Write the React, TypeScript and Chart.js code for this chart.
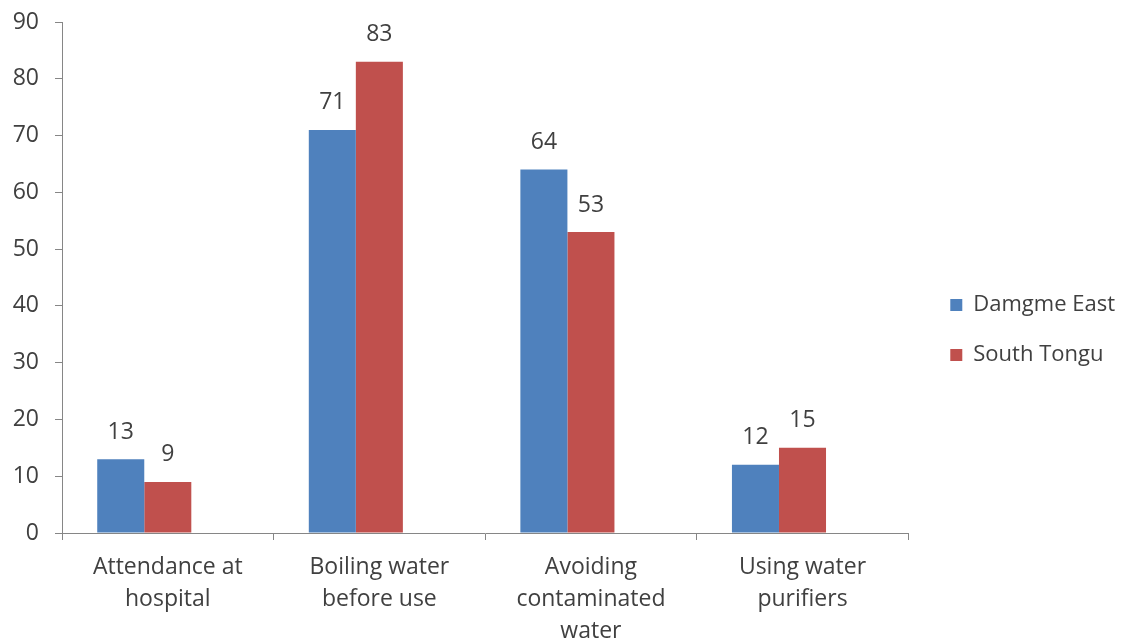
import React, { useEffect, useRef } from 'react';
import { Chart, registerables } from 'chart.js';

Chart.register(...registerables);

const categories: string[][] = [
  ['Attendance at', 'hospital'],
  ['Boiling water', 'before use'],
  ['Avoiding', 'contaminated', 'water'],
  ['Using water', 'purifiers'],
];
const damgmeEast = [13, 71, 64, 12];
const southTongu = [9, 83, 53, 15];
const spacerSlot: (number | null)[] = [null, null, null, null];
const seriesNames = ['Damgme East', 'South Tongu'];
const yMin = 0;
const yMax = 90;
const yStep = 10;

const FONT = 'Open Sans';
const FS = 23;
const LEGEND_FS = 22;
const TEXT = '#404040';
const AXIS = '#868686';

export default function App() {
  const ref = useRef<HTMLCanvasElement | null>(null);
  useEffect(() => {
    if (!ref.current) return;
    const valueLabels = {
      id: 'valueLabels',
      afterDatasetsDraw(chart: any) {
        const ctx = chart.ctx;
        ctx.save();
        ctx.font = `${FS}px "${FONT}"`;
        ctx.fillStyle = TEXT;
        ctx.textAlign = 'center';
        ctx.textBaseline = 'middle';
        [0, 1].forEach((di) => {
          const meta = chart.getDatasetMeta(di);
          const data = chart.data.datasets[di].data;
          meta.data.forEach((el: any, i: number) => {
            ctx.fillText(String(data[i]), el.x, el.y - 27);
          });
        });
        ctx.restore();
      },
    };
    const chart = new Chart(ref.current, {
      type: 'bar',
      data: {
        labels: categories,
        datasets: [
          { label: seriesNames[0], data: damgmeEast, backgroundColor: '#4F81BD' },
          { label: seriesNames[1], data: southTongu, backgroundColor: '#C0504D' },
          { label: '', data: spacerSlot as any, backgroundColor: 'rgba(0,0,0,0)' },
        ],
      },
      options: {
        responsive: false,
        animation: false,
        devicePixelRatio: 1,
        layout: { padding: { left: 0, top: 17, right: 1, bottom: 0 } },
        datasets: { bar: { categoryPercentage: 0.667, barPercentage: 1 } },
        plugins: {
          legend: {
            position: 'right',
            maxWidth: 400,
            labels: {
              boxWidth: 12,
              boxHeight: 12,
              padding: 28,
              color: TEXT,
              font: { family: FONT, size: LEGEND_FS },
              filter: (item: any) => item.text !== '',
            },
          },
          tooltip: { enabled: false },
        },
        scales: {
          x: {
            grid: { display: true, drawOnChartArea: false, drawTicks: true, tickLength: 7, color: AXIS, offset: true },
            border: { display: true, color: AXIS },
            ticks: { color: TEXT, padding: 11, maxRotation: 0, autoSkip: false, font: { family: FONT, size: FS, lineHeight: 32 / FS } },
            afterFit: (s: any) => { s.height = 110; s.paddingLeft = 0; s.paddingRight = 0; },
          },
          y: {
            min: yMin,
            max: yMax,
            grid: { display: true, drawOnChartArea: false, drawTicks: true, tickLength: 7, color: AXIS },
            border: { display: true, color: AXIS },
            ticks: { stepSize: yStep, color: TEXT, padding: 16, font: { family: FONT, size: FS } },
            afterFit: (s: any) => { s.width = 62; s.paddingTop = 22; s.paddingBottom = 0; },
          },
          gap: {
            type: 'linear',
            position: 'right',
            display: true,
            grid: { display: false },
            border: { display: false },
            ticks: { display: false },
            afterFit: (s: any) => { s.width = 14; s.paddingTop = 0; s.paddingBottom = 0; },
          } as any,
        },
      },
      plugins: [valueLabels],
    });
    return () => chart.destroy();
  }, []);
  return (
    <div style={{ position: 'fixed', left: 0, top: 0, width: 1126, height: 643, background: '#fff' }}>
      <canvas ref={ref} width={1126} height={643} style={{ display: 'block' }} />
    </div>
  );
}
